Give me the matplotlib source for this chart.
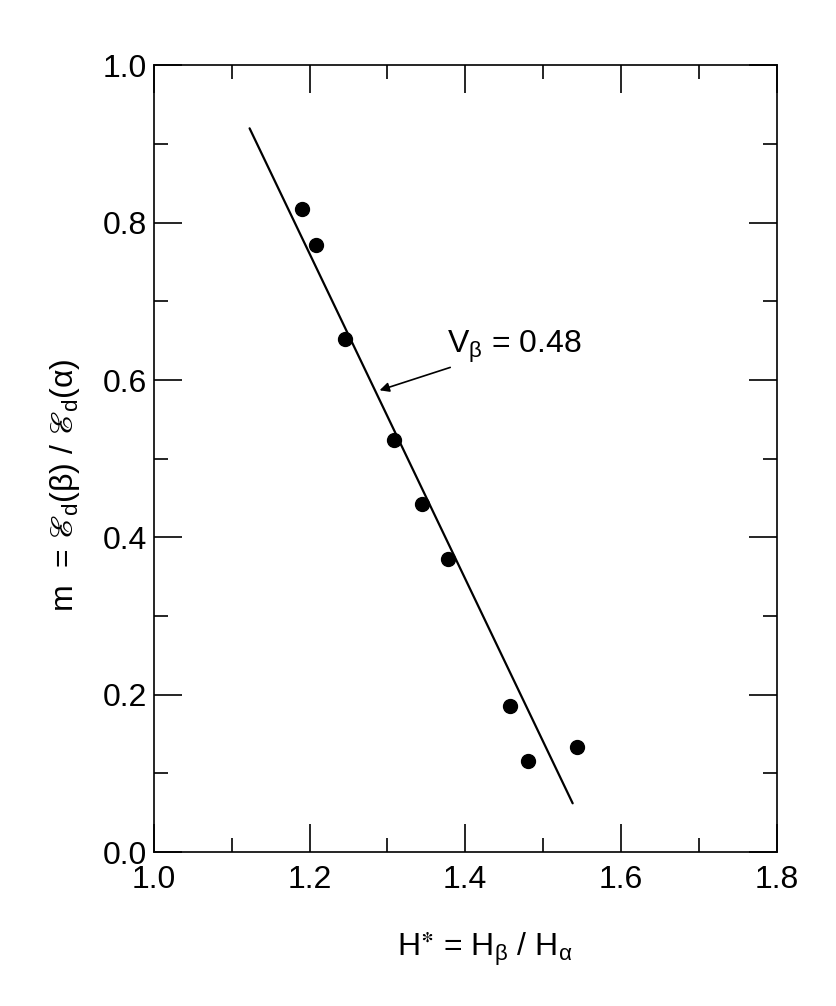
import matplotlib
matplotlib.use("Agg")
import matplotlib.pyplot as plt
from matplotlib.ticker import MultipleLocator, FormatStrFormatter

# Data
h_star = [1.190, 1.208, 1.245, 1.309, 1.344, 1.378, 1.457, 1.480, 1.543]
m_vals = [0.818, 0.772, 0.652, 0.524, 0.443, 0.373, 0.186, 0.116, 0.134]

# Fitted straight line (end points)
fit_x = [1.123, 1.538]
fit_y = [0.920, 0.062]

annot_text = r"V$_\mathrm{β}$ = 0.48"
annot_xy = (1.290, 0.587)
annot_text_xy = (1.377, 0.635)

x_ticks = [1.0, 1.2, 1.4, 1.6, 1.8]
y_ticks = [0.0, 0.2, 0.4, 0.6, 0.8, 1.0]

plt.rcParams['font.family'] = ['Liberation Sans', 'DejaVu Sans']
plt.rcParams['mathtext.fontset'] = 'custom'
plt.rcParams['mathtext.rm'] = 'Liberation Sans'
plt.rcParams['mathtext.it'] = 'Liberation Sans:italic'
plt.rcParams['mathtext.bf'] = 'Liberation Sans:bold'
plt.rcParams['mathtext.fallback'] = 'stixsans'

fig = plt.figure(figsize=(8.36, 10.06), dpi=100)
ax = fig.add_axes([0.184, 0.153, 0.745, 0.782])

ax.plot(fit_x, fit_y, color='black', lw=1.6, solid_capstyle='round')
ax.plot(h_star, m_vals, 'o', color='black', markersize=10)

ax.annotate(annot_text, xy=annot_xy, xytext=annot_text_xy,
            fontsize=23, ha='left', va='baseline',
            arrowprops=dict(arrowstyle='-|>', color='black', lw=1.2,
                            mutation_scale=14, shrinkA=0, shrinkB=0))

ax.set_xlim(1.0, 1.8)
ax.set_ylim(0.0, 1.0)
ax.set_xticks(x_ticks)
ax.set_yticks(y_ticks)
ax.xaxis.set_minor_locator(MultipleLocator(0.1))
ax.yaxis.set_minor_locator(MultipleLocator(0.1))
ax.xaxis.set_major_formatter(FormatStrFormatter('%.1f'))
ax.yaxis.set_major_formatter(FormatStrFormatter('%.1f'))

ax.tick_params(which='both', direction='in', top=True, right=True,
               color='black', width=1.2)
ax.tick_params(which='major', length=20, labelsize=23)
ax.tick_params(which='minor', length=10)
ax.tick_params(axis='x', which='major', pad=9)
ax.tick_params(axis='y', which='major', pad=5)

for s in ax.spines.values():
    s.set_linewidth(1.2)
    s.set_color('black')

ax.set_xlabel(r"H$^{\mathbf{\ast}}$ = H$_\mathrm{β}$ / H$_\mathrm{α}$", fontsize=23)
ax.xaxis.set_label_coords(0.531, -0.100)
ax.set_ylabel(r"m  = $\mathrm{ℰ}_\mathrm{d}$(β) / $\mathrm{ℰ}_\mathrm{d}$(α)",
              fontsize=23, va='center')
ax.yaxis.set_label_coords(-0.143, 0.466)

fig.savefig('out.png', dpi=100, facecolor='white')
